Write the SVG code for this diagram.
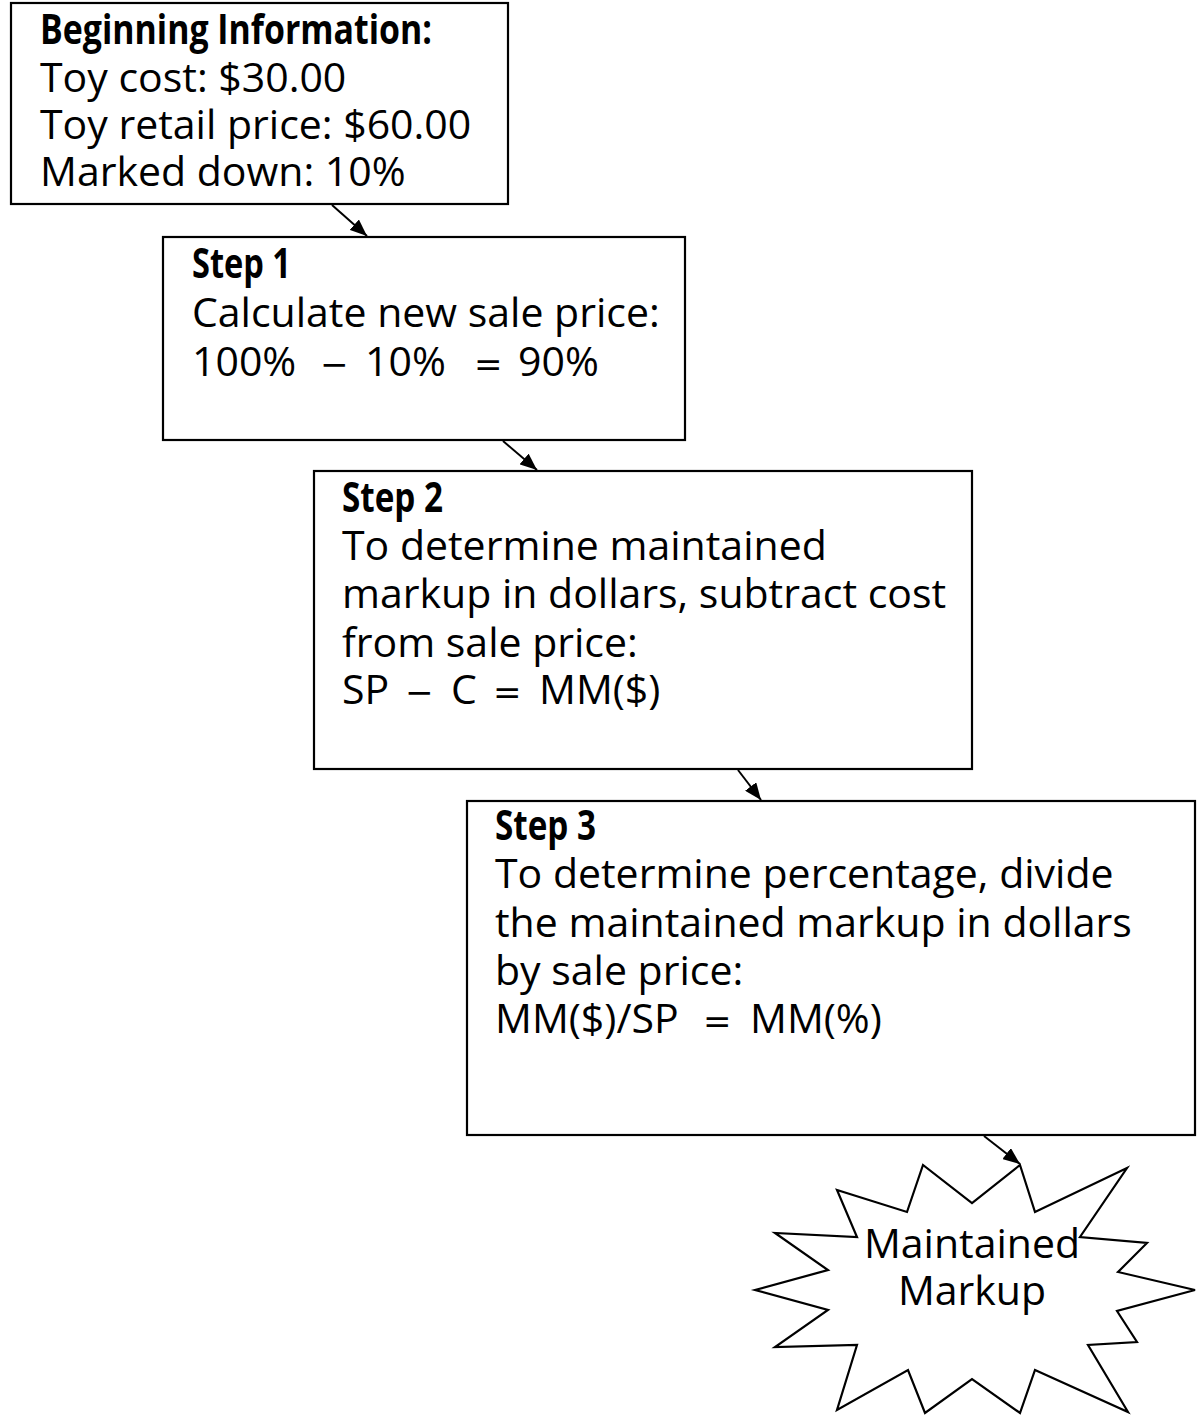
<svg xmlns="http://www.w3.org/2000/svg" width="1197" height="1415" viewBox="0 0 1197 1415">
<style>
.box{fill:#fff;stroke:#000;stroke-width:2.2}
.t{font-family:"Open Sans","Noto Sans","Liberation Sans",sans-serif;font-size:41px;fill:#000}
.h{font-family:"Open Sans","Noto Sans","Liberation Sans",sans-serif;font-size:41px;font-weight:bold;fill:#000}
.op{font-family:"DejaVu Sans","Liberation Sans",sans-serif;font-size:34px}
.c{fill:none;stroke:#000;stroke-width:2}
</style>
<defs>
<marker id="ah" markerUnits="userSpaceOnUse" markerWidth="18" markerHeight="14" refX="17" refY="7" orient="auto">
<path d="M0,0 L17,7 L0,14 z" fill="#000"/>
</marker>
</defs>
<rect x="0" y="0" width="1197" height="1415" fill="#fff"/>
<g id="begin">
<rect class="box" x="11" y="3" width="497" height="201"/>
<text class="h" x="40" y="44" textLength="392" lengthAdjust="spacingAndGlyphs">Beginning Information:</text>
<text class="t" x="40" y="92">Toy cost: $30.00</text>
<text class="t" x="40" y="139">Toy retail price: $60.00</text>
<text class="t" x="40" y="186">Marked down: 10%</text>
</g>
<g id="step1">
<rect class="box" x="163" y="237" width="522" height="203"/>
<text class="h" x="192" y="278" textLength="99" lengthAdjust="spacingAndGlyphs">Step 1</text>
<text class="t" x="192" y="327">Calculate new sale price:</text>
<text class="t" y="376"><tspan x="192">100%</tspan><tspan class="op" x="320">−</tspan><tspan x="365">10%</tspan><tspan class="op" x="474">=</tspan><tspan x="518">90%</tspan></text>
</g>
<g id="step2">
<rect class="box" x="314" y="471" width="658" height="298"/>
<text class="h" x="342" y="512" textLength="101" lengthAdjust="spacingAndGlyphs">Step 2</text>
<text class="t" x="342" y="560">To determine maintained</text>
<text class="t" x="342" y="608">markup in dollars, subtract cost</text>
<text class="t" x="342" y="657">from sale price:</text>
<text class="t" y="704"><tspan x="342">SP</tspan><tspan class="op" x="405">−</tspan><tspan x="451">C</tspan><tspan class="op" x="493">=</tspan><tspan x="539">MM($)</tspan></text>
</g>
<g id="step3">
<rect class="box" x="467" y="801" width="728" height="334"/>
<text class="h" x="495" y="840" textLength="101" lengthAdjust="spacingAndGlyphs">Step 3</text>
<text class="t" x="495" y="888">To determine percentage, divide</text>
<text class="t" x="495" y="937">the maintained markup in dollars</text>
<text class="t" x="495" y="985">by sale price:</text>
<text class="t" y="1033"><tspan x="495">MM($)/SP</tspan><tspan class="op" x="703">=</tspan><tspan x="750">MM(%)</tspan></text>
</g>
<g id="result">
<polygon class="box" points="1020,1165 1035,1212 1127,1168 1080,1237 1147,1243 1118,1272 1195,1290 1117,1311 1137,1342 1088,1345 1128,1412 1035,1370 1020,1413 972,1379 925,1413 908,1370 837,1410 857,1345 775,1347 828,1310 755,1290 828,1270 775,1233 857,1237 837,1190 907,1212 923,1165 972,1203"/>
<text class="t" x="972" y="1258" text-anchor="middle">Maintained</text>
<text class="t" x="972" y="1305" text-anchor="middle">Markup</text>
</g>
<g id="connectors">
<line class="c" x1="332" y1="205" x2="367" y2="236" marker-end="url(#ah)"/>
<line class="c" x1="503" y1="441" x2="537" y2="470" marker-end="url(#ah)"/>
<line class="c" x1="738" y1="770" x2="761" y2="800" marker-end="url(#ah)"/>
<line class="c" x1="984" y1="1136" x2="1020" y2="1164" marker-end="url(#ah)"/>
</g>
</svg>
